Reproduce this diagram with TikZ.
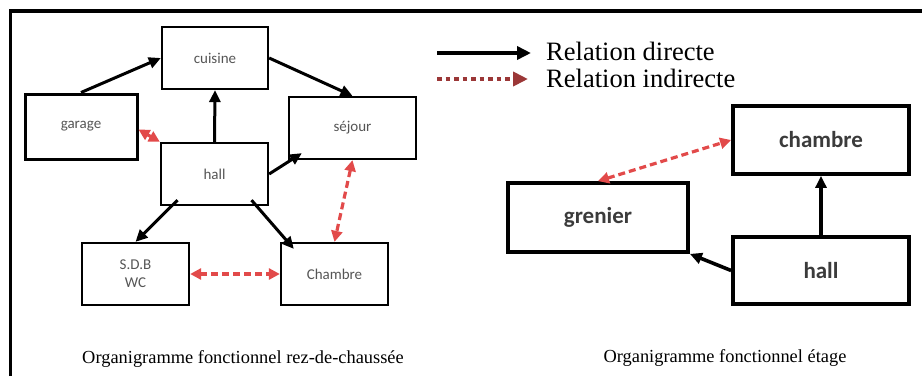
\documentclass[tikz,border=0pt]{standalone}
\usepackage{fontspec}
\setmainfont{Liberation Serif}
\newfontfamily\boxfont{Carlito}
\usepackage{tikz}
\usetikzlibrary{positioning,arrows.meta}

\definecolor{dashred}{RGB}{226,74,74}
\definecolor{legendred}{RGB}{155,55,55}
\definecolor{labelgray}{RGB}{85,85,85}

\begin{document}
\begin{tikzpicture}[x=1pt,y=-1pt,
  room/.style={draw,line width=2.3pt,inner sep=0pt,align=center,text=labelgray,
    font=\boxfont\fontsize{15}{18}\selectfont},
  bigroom/.style={room,line width=3.8pt,text=labelgray!70!black,
    font=\boxfont\bfseries\fontsize{23}{27}\selectfont},
  direct/.style={line width=3pt,-{Triangle[length=12pt,width=11pt]}},
  indirect/.style={dashred,line width=3.2pt,dash pattern=on 7pt off 4pt,
    {Triangle[length=11pt,width=11pt]}-{Triangle[length=11pt,width=11pt]}},
  legendtext/.style={anchor=base west,inner sep=0pt,font=\fontsize{26.5}{28}\selectfont},
  caption/.style={anchor=base,inner sep=0pt,font=\fontsize{18.4}{22}\selectfont}]

  \useasboundingbox (0,0) rectangle (922,376);
  \draw[line width=3.8pt] (10.5,376) -- (10.5,11) -- (922,11);

  % rez-de-chaussee
  \node[room,minimum width=106pt,minimum height=62pt] (cuisine) at (215,58) {cuisine};
  \node[room,line width=3pt,minimum width=112pt,minimum height=65pt] (garage) at (81,126.5) {garage};
  \node[room,minimum width=127pt,minimum height=62pt] (sejour) at (352.5,128) {séjour};
  \node[room,minimum width=107pt,minimum height=62pt] (hall) at (214.5,174) {hall};
  \node[room,minimum width=107pt,minimum height=62pt] (sdb) at (135.5,274) {S.D.B\\WC};
  \node[room,minimum width=107pt,minimum height=62pt] (chambre) at (334.5,274) {Chambre};

  \draw[direct] (garage.north) -- (cuisine.west);
  \draw[direct] (cuisine.east) -- (sejour.north);
  \draw[direct] (hall.north) -- (cuisine.south);
  \draw[direct] (hall.east) -- ([xshift=14pt,yshift=7pt]sejour.south west);
  \draw[direct] ([xshift=-37pt,yshift=6pt]hall.south) -- (sdb.north);
  \draw[direct] ([xshift=37pt,yshift=6pt]hall.south) -- ([xshift=14pt,yshift=-7pt]chambre.north west);

  \draw[indirect] ([yshift=-3pt]garage.east) -- (hall.north west);
  \draw[indirect] (sejour.south) -- (chambre.north);
  \draw[indirect] (sdb.east) -- (chambre.west);

  \node[caption] (rdc) at (243,363) {Organigramme fonctionnel rez-de-chaussée};

  % etage
  \node[bigroom,minimum width=176pt,minimum height=68pt] (chambre2) at (821,140) {chambre};
  \node[bigroom,minimum width=180pt,minimum height=69pt] (grenier) at (598,217.5) {grenier};
  \node[bigroom,minimum width=176pt,minimum height=67pt] (hall2) at (821,270.5) {hall};

  \draw[direct,line width=3.6pt] (hall2.north) -- (chambre2.south);
  \draw[direct,line width=3.6pt] (hall2.west) -- (grenier.south east);
  \draw[indirect] (grenier.north) -- (chambre2.west);

  \node[caption] (etage) at (725,362) {Organigramme fonctionnel étage};

  % legende
  \coordinate (d1) at (437,53);
  \coordinate (d2) at (531,53);
  \coordinate (i1) at (437,79);
  \coordinate (i2) at (528,79);
  \draw[line width=3.5pt,-{Triangle[length=14pt,width=13pt]}] (d1) -- (d2);
  \draw[legendred,line width=4.5pt,dash pattern=on 4.5pt off 4pt,-{Triangle[length=15pt,width=14pt]}] (i1) -- (i2);
  \node[legendtext] (ldirect) at (546,60) {Relation directe};
  \node[legendtext] (lindirect) at (546,87) {Relation indirecte};
\end{tikzpicture}
\end{document}
